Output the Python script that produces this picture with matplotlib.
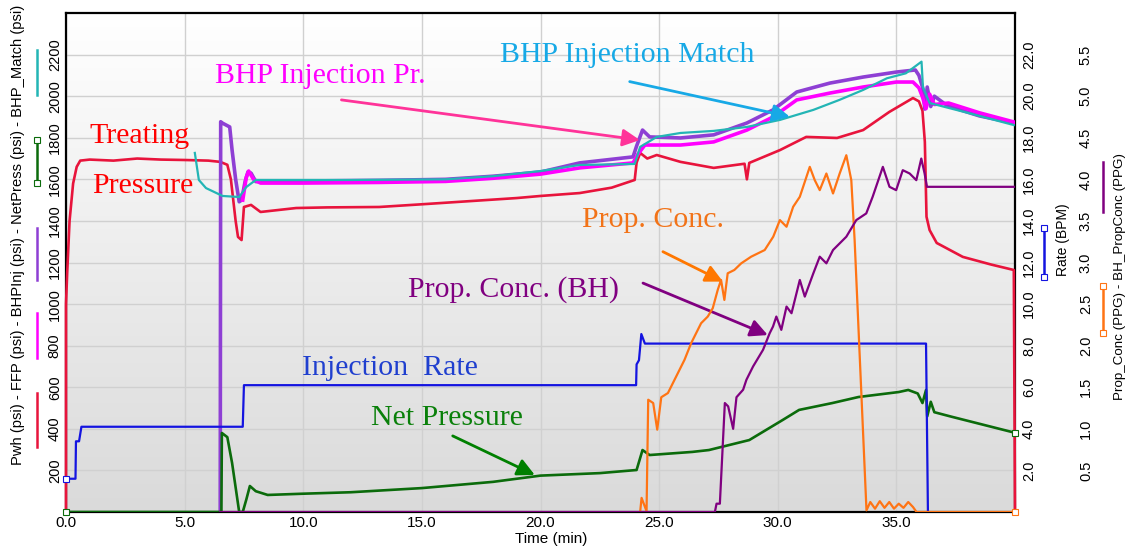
import numpy as np
import matplotlib.pyplot as plt
from matplotlib.lines import Line2D
from matplotlib.colors import LinearSegmentedColormap

# --- treating pressure at wellhead (psi)
pwh_t = [0.0, 0.0, 0.05, 0.15, 0.3, 0.45, 0.6, 1.0, 2.0, 3.0, 4.0, 5.0, 6.0, 6.5, 6.8,
         6.95, 7.05, 7.15, 7.25, 7.4, 7.5, 7.8, 8.2, 9.7, 11.0, 13.2, 15.0, 17.0, 19.0,
         20.0, 21.65, 23.0, 23.97, 24.05, 24.2, 24.5, 24.9, 25.9, 27.3, 28.6, 28.7, 28.8,
         30.1, 31.2, 32.5, 33.6, 34.7, 35.7, 35.95, 36.1, 36.2, 36.27, 36.4, 36.7, 37.8,
         39.0, 39.95, 40.0]
pwh = [0, 1000, 1150, 1400, 1580, 1660, 1690, 1695, 1690, 1700, 1695, 1693, 1690, 1684,
       1670, 1600, 1500, 1400, 1323, 1308, 1467, 1477, 1443, 1462, 1465, 1467, 1480, 1495,
       1510, 1520, 1534, 1560, 1597, 1680, 1727, 1700, 1717, 1684, 1655, 1675, 1600, 1679,
       1741, 1804, 1799, 1837, 1924, 1991, 1975, 1930, 1780, 1420, 1356, 1294, 1227, 1190,
       1164, 0]

# --- fracture fluid pressure (psi)
ffp_t = [7.45, 7.6, 7.7, 7.9, 8.2, 10.0, 13.2, 16.0, 18.0, 20.0, 21.65, 23.9, 24.1, 24.4,
         25.9, 27.3, 28.7, 29.8, 30.8, 32.2, 33.6, 35.0, 35.7, 35.95, 36.1, 36.25, 36.4,
         36.6, 37.2, 38.5, 39.95]
ffp = [1500, 1610, 1640, 1600, 1582, 1582, 1585, 1590, 1605, 1625, 1655, 1679, 1720, 1765,
       1765, 1780, 1837, 1900, 1982, 2015, 2044, 2068, 2068, 2040, 1996, 1940, 2010, 1960,
       1967, 1920, 1876]

# --- bottomhole injection pressure (psi)
bhp_t = [6.5, 6.52, 6.6, 6.9, 7.0, 7.15, 7.3, 7.4, 7.55, 7.67, 7.8, 8.0, 10.0, 13.2, 16.0,
         18.0, 20.0, 21.65, 23.9, 24.05, 24.3, 24.6, 25.9, 27.3, 28.7, 29.8, 30.8, 32.2,
         33.6, 35.0, 35.8, 35.95, 36.1, 36.2, 36.3, 36.45, 36.6, 37.1, 37.7, 38.5, 39.95]
bhp = [0, 1877, 1870, 1852, 1741, 1600, 1492, 1500, 1590, 1636, 1630, 1589, 1592, 1595,
       1600, 1615, 1635, 1679, 1708, 1760, 1837, 1804, 1799, 1814, 1871, 1934, 2020, 2063,
       2092, 2116, 2126, 2100, 2044, 1938, 2044, 1950, 2000, 1958, 1934, 1905, 1871]

# --- net pressure (psi)
net_t = [0.0, 6.55, 6.57, 6.8, 7.0, 7.3, 7.45, 7.6, 7.75, 8.0, 8.5, 10.0, 12.0, 15.0,
         18.0, 20.0, 22.5, 24.05, 24.3, 24.6, 26.4, 27.1, 28.8, 30.2, 30.9, 32.3, 33.4,
         35.1, 35.5, 35.9, 36.1, 36.25, 36.3, 36.45, 36.6, 37.3, 40.0]
net = [0, 0, 380, 360, 236, 0, 0, 60, 125, 100, 82, 88, 95, 115, 145, 175, 187, 202, 298,
       274, 289, 298, 346, 442, 491, 524, 553, 577, 587, 570, 524, 587, 460, 530, 480, 459,
       381]

# --- matched bottomhole pressure (psi)
match_t = [5.43, 5.6, 5.9, 6.6, 7.3, 7.6, 8.0, 12.0, 16.0, 18.0, 20.0, 21.65, 23.97, 24.2,
           24.9, 25.9, 27.3, 28.7, 30.1, 31.5, 32.6, 33.6, 34.6, 35.4, 36.06, 36.12, 36.4,
           38.0, 39.95]
match = [1727, 1597, 1558, 1520, 1515, 1563, 1597, 1597, 1600, 1615, 1640, 1669, 1674,
         1756, 1804, 1823, 1833, 1852, 1886, 1934, 1982, 2030, 2086, 2110, 2166, 2044,
         1967, 1920, 1861]

# --- slurry rate (bpm)
rate_t = [0.0, 0.4, 0.42, 0.55, 0.65, 7.45, 7.5, 24.03, 24.05, 24.15, 24.25, 24.4, 36.25,
          36.33]
rate = [1.6, 1.6, 3.4, 3.4, 4.1, 4.1, 6.1, 6.1, 7.1, 7.3, 8.56, 8.1, 8.1, 0.0]

# --- surface proppant concentration (ppg)
prop_t = [24.2, 24.26, 24.47, 24.54, 24.75, 24.92, 25.09, 25.37, 25.79, 26.07, 26.35,
          26.63, 26.77, 27.05, 27.26, 27.47, 27.61, 27.75, 27.89, 28.17, 28.46, 28.88,
          29.45, 29.81, 30.09, 30.37, 30.65, 30.93, 31.35, 31.56, 31.77, 32.05, 32.33,
          32.61, 32.89, 33.1, 33.24, 33.74, 33.9, 34.1, 34.3, 34.5, 34.7, 34.9, 35.1,
          35.3, 35.5, 35.7, 35.85, 40.0]
prop = [0.0, 0.17, 0.01, 1.35, 1.31, 0.99, 1.38, 1.43, 1.67, 1.83, 2.03, 2.19, 2.27,
        2.35, 2.45, 2.67, 2.79, 2.55, 2.87, 2.91, 2.99, 3.07, 3.15, 3.31, 3.51, 3.43,
        3.67, 3.79, 4.15, 3.99, 3.87, 4.07, 3.83, 4.07, 4.29, 3.99, 3.27, 0.02, 0.12,
        0.04, 0.13, 0.05, 0.12, 0.04, 0.10, 0.05, 0.12, 0.06, 0.0, 0.0]

# --- bottomhole proppant concentration (ppg)
bhprop_t = [6.5, 27.35, 27.42, 27.56, 27.77, 27.91, 28.12, 28.26, 28.54, 28.68, 28.96,
            29.38, 29.66, 29.8, 29.94, 30.15, 30.37, 30.58, 30.79, 30.93, 31.14, 31.5,
            31.77, 32.05, 32.33, 32.89, 33.31, 33.73, 34.0, 34.43, 34.71, 34.99, 35.27,
            35.56, 35.84, 36.05, 36.19, 36.29, 40.0]
bhprop = [0.0, 0.0, 0.1, 0.1, 1.31, 1.27, 1.0, 1.38, 1.47, 1.59, 1.75, 1.95, 2.15, 2.23,
          2.35, 2.19, 2.47, 2.39, 2.63, 2.79, 2.59, 2.87, 3.07, 2.99, 3.15, 3.31, 3.51,
          3.59, 3.79, 4.15, 3.91, 3.87, 4.11, 4.07, 3.99, 4.25, 4.07, 3.91, 3.91]

time_ticks = [0, 5, 10, 15, 20, 25, 30, 35]
psi_ticks = list(range(200, 2201, 200))
rate_ticks = list(range(2, 23, 2))
ppg_ticks = [0.5, 1.0, 1.5, 2.0, 2.5, 3.0, 3.5, 4.0, 4.5, 5.0, 5.5]

C_RED = '#e8143c'
C_MAG = '#ff00ff'
C_VIO = '#8e3fd4'
C_GRN = '#0b6b0b'
C_TEAL = '#23b5b5'
C_BLUE = '#1414e0'
C_ORG = '#ff7414'
C_PUR = '#800080'

W, H = 1132, 550
plt.rcParams['font.family'] = ['Liberation Sans', 'DejaVu Sans']
fig = plt.figure(figsize=(W / 100, H / 100), dpi=100)
ax = fig.add_axes([66 / W, 1 - 512 / H, (1015 - 66) / W, (512 - 13) / H])

# soft vertical gradient behind the traces
grad = np.linspace(0, 1, 256).reshape(-1, 1)
bg = LinearSegmentedColormap.from_list('bg', ['#dadada', '#ffffff'])
ax.imshow(grad, extent=[0, 40, 0, 2400], origin='lower', aspect='auto', cmap=bg, zorder=0)
ax.set_xlim(0, 40)
ax.set_ylim(0, 2400)
ax.set_axisbelow(True)
ax.grid(True, color='#d0d0d0', lw=1)

ax.plot(pwh_t, pwh, color=C_RED, lw=1.9, zorder=3, clip_on=False)
ax.plot(bhp_t, bhp, color=C_VIO, lw=2.6, zorder=3)
ax.plot(ffp_t, ffp, color=C_MAG, lw=2.6, zorder=3)
ax.plot(net_t, net, color=C_GRN, lw=1.9, zorder=3)
ax.plot(net_t[-1:], net[-1:], 's', ms=4, mfc='white', mec=C_GRN, mew=0.8, zorder=4, clip_on=False)
ax.plot(net_t[:1], net[:1], 's', ms=4, mfc='white', mec=C_GRN, mew=0.8, zorder=4, clip_on=False)
ax.plot(match_t, match, color=C_TEAL, lw=1.6, zorder=3)

ax.set_xticks(time_ticks)
ax.set_xticklabels([f'{v:.1f}' for v in time_ticks], fontsize=11)
ax.set_yticks(psi_ticks)
ax.set_yticklabels([str(v) for v in psi_ticks], fontsize=10.5, rotation=90, va='center')
ax.tick_params(length=0)
ax.tick_params(axis='y', pad=3)
ax.tick_params(axis='x', pad=3)
for s in ax.spines.values():
    s.set_color('black')
    s.set_linewidth(1.6)

ax2 = ax.twinx()
ax2.set_ylim(0, 24)
ax2.plot(rate_t, rate, color=C_BLUE, lw=1.6)
ax2.plot(rate_t[:1], rate[:1], 's', ms=4, mfc='white', mec=C_BLUE, mew=0.8, clip_on=False)
ax2.set_yticks(rate_ticks)
ax2.set_yticklabels([f'{v:.1f}' for v in rate_ticks], fontsize=10.5, rotation=90, va='center')
ax2.tick_params(length=0, pad=5)

ax3 = ax.twinx()
ax3.set_ylim(0, 6)
ax3.plot(prop_t, prop, color=C_ORG, lw=1.6)
ax3.plot(prop_t[-1:], prop[-1:], 's', ms=4, mfc='white', mec=C_ORG, mew=0.8, clip_on=False)
ax3.plot(bhprop_t, bhprop, color=C_PUR, lw=1.6)
ax3.set_yticks(ppg_ticks)
ax3.set_yticklabels([f'{v:.1f}' for v in ppg_ticks], fontsize=10.5, rotation=90, va='center')
ax3.tick_params(length=0, pad=46)
for a in (ax2, ax3):
    for s in a.spines.values():
        s.set_visible(False)
ax3.set_xlim(0, 40)

# callouts
serif = dict(family=['Liberation Serif', 'DejaVu Serif'], fontsize=21.5)
ax.text(1.0, 1775, 'Treating', color='#ff0000', **serif)
ax.text(1.1, 1534, 'Pressure', color='#ff0000', **serif)
ax.text(6.27, 2062, 'BHP Injection Pr.', color=C_MAG, **serif)
ax.text(18.29, 2166, 'BHP Injection Match', color='#17a9e6', **serif)
ax.text(21.74, 1372, 'Prop. Conc.', color='#f27318', **serif)
ax.text(14.41, 1034, 'Prop. Conc. (BH)', color=C_PUR, **serif)
ax.text(9.94, 659, 'Injection  Rate', color='#1f3fcf', **serif)
ax.text(12.85, 418, 'Net Pressure', color='#0a800a', **serif)

arrows = [((11.61, 1982), (24.19, 1789), '#ff3399'),
          ((23.76, 2070), (30.51, 1901), '#17a9e6'),
          ((25.16, 1252), (27.69, 1108), '#ff7700'),
          ((24.32, 1101), (29.58, 851), C_PUR),
          ((16.30, 366), (19.76, 178), '#008000')]
for start, tip, col in arrows:
    ax.annotate('', xy=tip, xytext=start, zorder=6,
                arrowprops=dict(arrowstyle='-|>', color=col, lw=2, mutation_scale=26,
                                shrinkA=0, shrinkB=0))

# axis titles with their series swatches
def fx(px):
    return px / W


def fy(py):
    return 1 - py / H


fig.text(fx(18), fy(235),
         'Pwh (psi) - FFP (psi) - BHPInj (psi) - NetPress (psi) - BHP_Match (psi)',
         rotation=90, ha='center', va='center', fontsize=10.6)
fig.text(fx(551), fy(539), 'Time (min)', ha='center', va='center', fontsize=11)
fig.text(fx(1063), fy(240), 'Rate (BPM)', rotation=90, ha='center', va='center', fontsize=10)
fig.text(fx(1120), fy(277), 'Prop_Conc (PPG) - BH_PropConc (PPG)', rotation=90,
         ha='center', va='center', fontsize=9.6)

swatches = [(37, 393, 447, C_RED, False), (37, 313, 358, C_MAG, False),
            (37, 228, 280, C_VIO, False), (37, 140, 183, C_GRN, True),
            (37, 50, 95, C_TEAL, False), (1044, 228, 277, C_BLUE, True),
            (1103, 286, 333, C_ORG, True), (1103, 162, 212, C_PUR, False)]
for px, y0, y1, col, mk in swatches:
    fig.add_artist(Line2D([fx(px), fx(px)], [fy(y0), fy(y1)], transform=fig.transFigure,
                          color=col, lw=1.8, marker='s' if mk else None, ms=4,
                          mfc='white', mec=col, mew=0.8))

fig.savefig('out.png', dpi=100)
